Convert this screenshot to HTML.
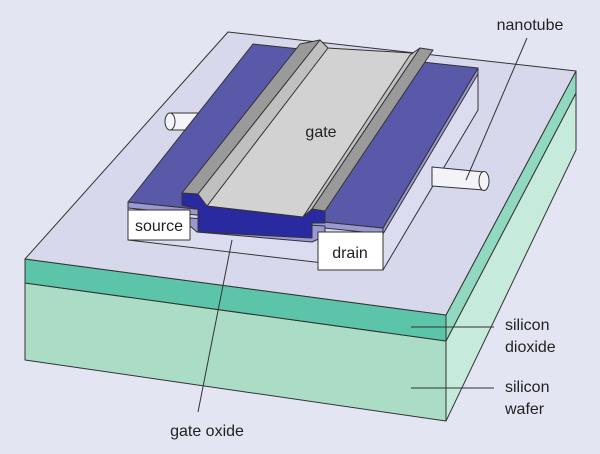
<!DOCTYPE html>
<html><head><meta charset="utf-8"><style>
html,body{margin:0;padding:0;background:#e3e5f3;}
svg{display:block}
text{font-family:"Liberation Sans",sans-serif;fill:#222;}
</style></head><body>
<svg width="600" height="454" viewBox="0 0 600 454" xmlns="http://www.w3.org/2000/svg">
<rect width="600" height="454" fill="#e3e5f3"/>
<g stroke="#333" stroke-width="1" stroke-linejoin="round">
<!-- wafer -->
<polygon points="25,283 446,341 446,421 25,360" fill="#abdcc6"/>
<polygon points="446,341 576,93 576,150 446,421" fill="#c6eadb"/>
<!-- dioxide -->
<polygon points="25,259 446,315 446,341 25,283" fill="#5cc4a8"/>
<polygon points="446,315 576,71 576,93 446,341" fill="#90d8c0"/>
<!-- top face -->
<polygon points="25,259 228,32 576,71 446,315" fill="#d8d8ec"/>
<!-- left nanotube -->
<rect x="170" y="113" width="30" height="17" fill="#f4f4f8"/>
<ellipse cx="170" cy="121.5" rx="5" ry="8.5" fill="#f4f4f8"/>
<!-- block faces -->
<polygon points="128,202 383,228 383,270 128,240" fill="#dcdcf0"/>
<polygon points="383,228 478,68 478,110 383,270" fill="#dcdcf0"/>
<!-- purple layer -->
<polygon points="128,202 383,228 383,234 128,208" fill="#9a98d0"/>
<polygon points="383,228 478,68 478,74 383,234" fill="#9a98d0"/>
<!-- pads -->
<polygon points="128,202 253,44 478,68 383,228" fill="#5a58a8"/>
<!-- trench lower layer -->
<polygon points="190,226 197,232 312,242 325,236 325,226 190,218" fill="#9a98d0"/>
<!-- dark channel -->
<polygon points="182,193 198,194 207,206 303,217 312,209 325,211 325,223 312,223 312,238 198,232 198,209 182,205" fill="#2a2aa0"/>
<!-- gate -->
<polygon points="327,48 412,53 303,217 207,206" fill="#d2d2d2"/>
<polygon points="300,44 320,40 198,194 182,193" fill="#9a9a9a"/>
<polygon points="320,40 328,48 207,206 198,194" fill="#c0c0c0"/>
<polygon points="410,55 420,48 312,209 303,217" fill="#c0c0c0"/>
<polygon points="420,48 433,50 325,211 312,209" fill="#9a9a9a"/>
<!-- source/drain boxes -->
<rect x="128" y="210" width="62" height="30" fill="#fff"/>
<rect x="318" y="232" width="65" height="38" fill="#fff"/>
<!-- right nanotube -->
<polygon points="432,167 484,172 484,190 432,186" fill="#f4f4f8"/>
<ellipse cx="484" cy="181" rx="5" ry="9.5" fill="#f4f4f8"/>
</g>
<g stroke="#333" stroke-width="1">
<line x1="527" y1="38" x2="466" y2="180"/>
<line x1="232" y1="240" x2="198" y2="412"/>
<line x1="411" y1="327" x2="494" y2="327"/>
<line x1="411" y1="388" x2="494" y2="388"/>
</g>
<text x="321" y="137" font-size="16" text-anchor="middle">gate</text>
<text x="159" y="231" font-size="16" text-anchor="middle">source</text>
<text x="350" y="258" font-size="16" text-anchor="middle">drain</text>
<text x="530" y="30" font-size="16" text-anchor="middle">nanotube</text>
<text x="505" y="330" font-size="16">silicon</text>
<text x="505" y="352" font-size="16">dioxide</text>
<text x="505" y="392" font-size="16">silicon</text>
<text x="505" y="414" font-size="16">wafer</text>
<text x="207" y="436" font-size="16" text-anchor="middle">gate oxide</text>
</svg>
</body></html>
